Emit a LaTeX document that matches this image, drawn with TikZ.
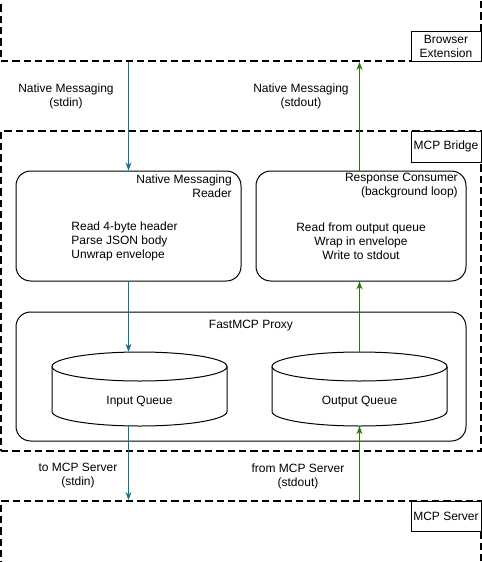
\documentclass[tikz,border=0pt]{standalone}
\usepackage{fontspec}
\setmainfont{Liberation Sans}
\usetikzlibrary{arrows.meta}
\definecolor{inblue}{HTML}{10739E}
\definecolor{outgreen}{HTML}{2D7600}

\begin{document}
\begin{tikzpicture}[x=0.75pt,y=0.75pt,yscale=-1,
    font=\fontsize{9}{10.5}\selectfont,
    region/.style={draw, line width=1.5pt, dash pattern={on 5.5pt off 3pt}, inner sep=0pt, minimum width=360pt},
    tag/.style={draw, fill=white, line width=0.75pt, align=center, inner sep=0pt, minimum width=52.5pt, minimum height=22.5pt},
    panel/.style={draw, line width=0.75pt, rounded corners=11pt, inner sep=0pt},
    ghost/.style={inner sep=0pt},
    flowin/.style={draw=inblue, line width=0.75pt, -{Stealth[length=6pt,width=4.5pt]}},
    flowout/.style={draw=outgreen, line width=0.75pt, -{Stealth[length=6pt,width=4.5pt]}}]
        \useasboundingbox (0,0) rectangle (482,562);
        
        %Regions
        \node [region, minimum height=60.75pt] (ext) at (241,20.5) {};
        \node [region, minimum height=240pt] (bridge) at (241,291) {};
        \node [region, minimum height=59.25pt] (server) at (241,540.5) {};
        
        %Panels
        \node [panel, minimum width=168.75pt, minimum height=82.5pt] (reader) at (128.5,226) {};
        \node [panel, minimum width=157.5pt, minimum height=82.5pt] (consumer) at (361,226) {};
        \node [panel, minimum width=337.5pt, minimum height=96.75pt] (proxy) at (241,376.5) {};
        
        %Queues
        \node [ghost, minimum width=131.25pt, minimum height=55.5pt] (inq) at (139.5,389) {};
        \node [ghost, minimum width=131.25pt, minimum height=55.5pt] (outq) at (359.5,389) {};
        \draw [line width=0.75pt] (139.5,366.5) ellipse [x radius=87.5, y radius=14.5];
        \draw [line width=0.75pt] (52,366.5) -- (52,411.5) arc [start angle=180, end angle=0, x radius=87.5, y radius=14.5] -- (227,366.5);
        \draw [line width=0.75pt] (359.5,366.5) ellipse [x radius=87.5, y radius=14.5];
        \draw [line width=0.75pt] (272,366.5) -- (272,411.5) arc [start angle=180, end angle=0, x radius=87.5, y radius=14.5] -- (447,366.5);
        
        % Text Node
        \node [ghost, anchor=east, align=right] (readertitle) at (232,186) {Native Messaging\\Reader};
        \node [ghost, align=left] (readerbody) at (124.5,241) {Read 4-byte header\\Parse JSON body\\Unwrap envelope};
        \node [ghost, anchor=east, align=right] (consumertitle) at (458,186) {Response Consumer\\(background loop)};
        \node [ghost, align=center] (consumerbody) at (361,241) {Read from output queue\\Wrap in envelope\\Write to stdout};
        \node [ghost] (proxytitle) at (251,326) {FastMCP Proxy};
        \node [ghost] (inqlabel) at (139.5,402) {Input Queue};
        \node [ghost] (outqlabel) at (359.5,402) {Output Queue};
        \node [ghost, align=center] (nmin) at (66,96) {Native Messaging\\(stdin)};
        \node [ghost, align=center] (nmout) at (301,96) {Native Messaging\\(stdout)};
        \node [ghost, align=center] (toserver) at (78,476) {to MCP Server\\(stdin)};
        \node [ghost, align=center] (fromserver) at (298,476) {from MCP Server\\(stdout)};
        
        %Arrows
        \draw [flowin] (ext.south -| reader.north) -- (reader.north);
        \draw [flowin] (reader.south) -- (reader.south |- inq.north);
        \draw [flowin] (reader.south |- inq.south) -- (server.north -| reader.south);
        \draw [flowout] (server.north -| outq.south) -- (outq.south);
        \draw [flowout] (outq.north) -- (outq.north |- consumer.south);
        \draw [flowout] (consumer.north -| outq.north) -- (ext.south -| outq.north);
        
        %Tags
        \node [tag] (exttag) at (446,46) {Browser\\Extension};
        \node [tag, minimum height=23.25pt] (bridgetag) at (446,146.5) {MCP Bridge};
        \node [tag] (servertag) at (446,516) {MCP Server};
        
\end{tikzpicture}
\end{document}
